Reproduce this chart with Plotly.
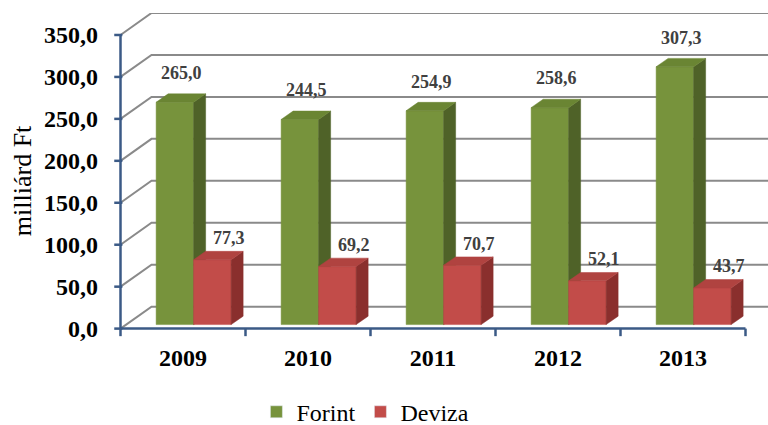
import plotly.graph_objects as go

years = ["2009", "2010", "2011", "2012", "2013"]
forint = [265.0, 244.5, 254.9, 258.6, 307.3]
deviza = [77.3, 69.2, 70.7, 52.1, 43.7]
y_ticks = [0, 50, 100, 150, 200, 250, 300, 350]

# style / geometry (not data)
G_FRONT, G_SIDE, G_TOP = "#77933C", "#4F6228", "#6A8533"
R_FRONT, R_SIDE, R_TOP = "#C24C49", "#8A2F2D", "#B04340"
AXIS_C = "#3B5A86"
GRID_C = "#8A8A8A"
WALL_DX, WALL_DY = 0.248, 26.2     # depth of the back wall (x units, value units)
BAR_DX, BAR_DY = 0.096, 10.0       # depth of each bar
BASE = 4.8
BAR_W = 0.3
BAR_START = 0.285
XMAX = 5.18
YMAX = 376.2
FONT = "Liberation Serif"

def fmt(v):
    return f"{v:.1f}".replace(".", ",")

fig = go.Figure()

# back/side wall gridlines
gx, gy = [], []
for v in y_ticks:
    gx += [0, WALL_DX, XMAX, None]
    gy += [v, v + WALL_DY, v + WALL_DY, None]
fig.add_trace(go.Scatter(x=gx, y=gy, mode="lines", line=dict(color=GRID_C, width=2),
                         hoverinfo="skip", showlegend=False))

def faces(values, s):
    fx, fy, sx, sy, tx, ty = [], [], [], [], [], []
    for i, v in enumerate(values):
        x0 = i + BAR_START + s * BAR_W
        x1 = x0 + BAR_W
        y0, y1 = BASE, BASE + v
        fx += [x0, x1, x1, x0, x0, None]
        fy += [y0, y0, y1, y1, y0, None]
        sx += [x1, x1 + BAR_DX, x1 + BAR_DX, x1, x1, None]
        sy += [y0, y0 + BAR_DY, y1 + BAR_DY, y1, y0, None]
        tx += [x0, x1, x1 + BAR_DX, x0 + BAR_DX, x0, None]
        ty += [y1, y1, y1 + BAR_DY, y1 + BAR_DY, y1, None]
    return (fx, fy), (sx, sy), (tx, ty)

for s, (vals, cols) in enumerate([(forint, (G_FRONT, G_SIDE, G_TOP)),
                                   (deviza, (R_FRONT, R_SIDE, R_TOP))]):
    for (xx, yy), c in zip(faces(vals, s), cols):
        fig.add_trace(go.Scatter(x=xx, y=yy, mode="lines", fill="toself", fillcolor=c,
                                 line=dict(color=c, width=0.5), hoverinfo="skip",
                                 showlegend=False))

# data labels
lab_font = dict(family=FONT, size=18, color="#404040", weight="bold")
fig.add_trace(go.Scatter(
    x=[i + BAR_START + BAR_W / 2 + 0.05 for i in range(len(forint))],
    y=[BASE + v + 33 for v in forint],
    text=[fmt(v) for v in forint], mode="text", textfont=lab_font,
    hoverinfo="skip", showlegend=False, cliponaxis=False))
fig.add_trace(go.Scatter(
    x=[i + BAR_START + BAR_W * 1.5 + 0.13 for i in range(len(deviza))],
    y=[BASE + v + 24 for v in deviza],
    text=[fmt(v) for v in deviza], mode="text", textfont=lab_font,
    hoverinfo="skip", showlegend=False, cliponaxis=False))

# front axes
ax_x = [0, 0, None, 0, len(years)]
ax_y = [0, y_ticks[-1], None, 0, 0]
for v in y_ticks:
    ax_x += [None, -0.05, 0.015]
    ax_y += [None, v, v]
for i in range(len(years) + 1):
    ax_x += [None, i, i]
    ax_y += [None, 0, -9]
fig.add_trace(go.Scatter(x=ax_x, y=ax_y, mode="lines", line=dict(color=AXIS_C, width=2.5),
                         hoverinfo="skip", showlegend=False))

# legend entries
fig.add_trace(go.Bar(x=[None], y=[None], name="Forint", marker_color=G_FRONT))
fig.add_trace(go.Bar(x=[None], y=[None], name="Deviza", marker_color=R_FRONT))

fig.update_layout(
    width=768, height=425,
    margin=dict(l=108, r=0, t=13, b=88, autoexpand=False),
    plot_bgcolor="white", paper_bgcolor="white",
    showlegend=True,
    legend=dict(orientation="h", x=0.39, xanchor="center", y=-0.232, yanchor="middle",
                font=dict(family=FONT, size=24, color="black"), itemwidth=30),
    xaxis=dict(range=[-0.1, XMAX], showgrid=False, zeroline=False, showline=False,
               tickvals=[i + 0.5 for i in range(len(years))], ticktext=years, ticks="",
               tickfont=dict(family=FONT, size=24, color="black", weight="bold"),
               ticklabelstandoff=4),
    yaxis=dict(range=[-10, YMAX], showgrid=False, zeroline=False, showline=False,
               tickvals=y_ticks, ticktext=[fmt(v) for v in y_ticks], ticks="",
               tickfont=dict(family=FONT, size=24, color="black", weight="bold"),
               ticklabelstandoff=9),
    annotations=[dict(text="milliárd Ft", xref="paper", yref="paper",
                      x=(22 - 108) / 660, y=0.481, textangle=-90, showarrow=False,
                      xanchor="center", yanchor="middle",
                      font=dict(family=FONT, size=26, color="black"))],
)

fig.write_html("out.html", config={"displayModeBar": False},
               post_script="document.body.style.margin='0';")
